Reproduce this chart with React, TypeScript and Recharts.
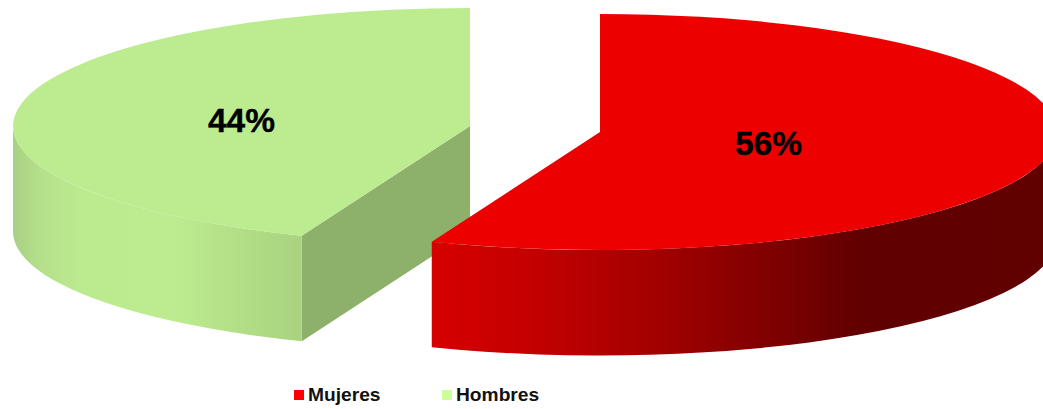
import React from 'react';
import { PieChart, Pie, Legend } from 'recharts';

const names = ['Mujeres', 'Hombres'];
const values = [56, 44];
const legendColors = ['#ff0000', '#ccff99'];
const topColors = ['#ec0000', '#bdec90'];
const sideGradients = ['redSide', 'greenSide'];
const cutColor = '#8db06b';

// exploded slices: offset of each slice from the pie centre, and where its % label sits
const PIE_CX = 535;
const PIE_CY = 129;
const RX = 457;
const RY = 118;
const DEPTH = 105.5;
const offsets = [{ x: 65, y: 3 }, { x: -65, y: -3 }];
const labelSpots = [{ x: 768.5, y: 143 }, { x: 241.5, y: 120 }];

// painted green first so the red slice covers the overlap
const tableData = names
  .map((name, i) => ({ name, value: values[i], fill: legendColors[i], slot: i }))
  .reverse();

const rad = (a: number) => (a * Math.PI) / 180;

function Slice3D(props: any) {
  const { startAngle, endAngle, payload } = props;
  const slot = payload.slot ?? props.slot;
  const cx = PIE_CX + offsets[slot].x;
  const cy = PIE_CY + offsets[slot].y;
  const px = (a: number) => cx + RX * Math.cos(rad(a));
  const py = (a: number) => cy - RY * Math.sin(rad(a));

  const large = Math.abs(startAngle - endAngle) > 180 ? 1 : 0;
  const top = `M${cx},${cy} L${px(startAngle)},${py(startAngle)} A${RX},${RY} 0 ${large} 1 ${px(endAngle)},${py(endAngle)} Z`;

  // the part of the rim on the lower half of the ellipse is the visible wall
  const hi = Math.max(startAngle, endAngle);
  const lo = Math.min(startAngle, endAngle);
  let a1 = 0;
  let a2 = 0;
  for (let k = 0; k < 3; k++) {
    const from = Math.min(hi, -360 * k);
    const to = Math.max(lo, -180 - 360 * k);
    if (from - to > a1 - a2) {
      a1 = from;
      a2 = to;
    }
  }
  const wall = `M${px(a1)},${py(a1)} A${RX},${RY} 0 0 1 ${px(a2)},${py(a2)} L${px(a2)},${py(a2) + DEPTH} A${RX},${RY} 0 0 0 ${px(a1)},${py(a1) + DEPTH} Z`;

  const cut = `M${cx},${cy} L${px(startAngle)},${py(startAngle)} L${px(startAngle)},${py(startAngle) + DEPTH} L${cx},${cy + DEPTH} Z`;

  return (
    <g>
      <path d={cut} fill={cutColor} />
      <path d={wall} fill={`url(#${sideGradients[slot]})`} />
      <path d={top} fill={topColors[slot]} />
    </g>
  );
}

function PercentLabel(props: any) {
  const slot = props.payload?.slot ?? props.slot;
  return (
    <text
      x={labelSpots[slot].x}
      y={labelSpots[slot].y}
      textAnchor="middle"
      dominantBaseline="central"
      fontFamily="Liberation Sans"
      fontWeight="bold"
      fontSize={33.5}
      fill="#000"
      stroke="#000"
      strokeWidth={0.4}
    >
      {`${Math.round(props.percent * 100)}%`}
    </text>
  );
}

function LegendRow({ payload }: any) {
  return (
    <div style={{ display: 'flex', fontFamily: 'Liberation Sans', fontWeight: 'bold', fontSize: 19.2, lineHeight: '22px', color: '#111' }}>
      {(payload || []).map((item: any) => (
        <div key={item.value} style={{ display: 'flex', alignItems: 'center', width: 148 }}>
          <span style={{ width: 10, height: 10, background: item.color, marginRight: 4 }} />
          <span>{item.value}</span>
        </div>
      ))}
    </div>
  );
}

export default function App() {
  return (
    <div style={{ position: 'absolute', left: 0, top: 0, width: 1043, height: 409, background: '#fff', overflow: 'hidden' }}>
      <PieChart width={1043} height={409} margin={{ top: 0, right: 0, bottom: 0, left: 0 }}>
        <defs>
          <linearGradient id="redSide" gradientUnits="userSpaceOnUse" x1={433} y1={0} x2={1057} y2={0}>
            <stop offset="0" stopColor="#d60000" />
            <stop offset="0.17" stopColor="#c20000" />
            <stop offset="0.35" stopColor="#a40000" />
            <stop offset="0.53" stopColor="#820000" />
            <stop offset="0.69" stopColor="#600000" />
            <stop offset="1" stopColor="#620000" />
          </linearGradient>
          <linearGradient id="greenSide" gradientUnits="userSpaceOnUse" x1={13} y1={0} x2={303} y2={0}>
            <stop offset="0" stopColor="#a8d084" />
            <stop offset="0.1" stopColor="#b6e08c" />
            <stop offset="0.25" stopColor="#bceb8f" />
            <stop offset="0.55" stopColor="#bdec90" />
            <stop offset="1" stopColor="#a9d27f" />
          </linearGradient>
        </defs>
        <Pie
          data={tableData}
          dataKey="value"
          nameKey="name"
          cx={PIE_CX}
          cy={PIE_CY}
          innerRadius={0}
          outerRadius={RX}
          startAngle={-111.6}
          endAngle={-471.6}
          stroke="none"
          legendType="square"
          shape={Slice3D}
          label={PercentLabel}
          labelLine={false}
          isAnimationActive={false}
        />
        <Legend
          content={LegendRow}
          itemSorter={(item: any) => names.indexOf(item.value)}
          wrapperStyle={{ position: 'absolute', left: 294, top: 384, width: 300, bottom: 'auto' }}
        />
      </PieChart>
    </div>
  );
}
